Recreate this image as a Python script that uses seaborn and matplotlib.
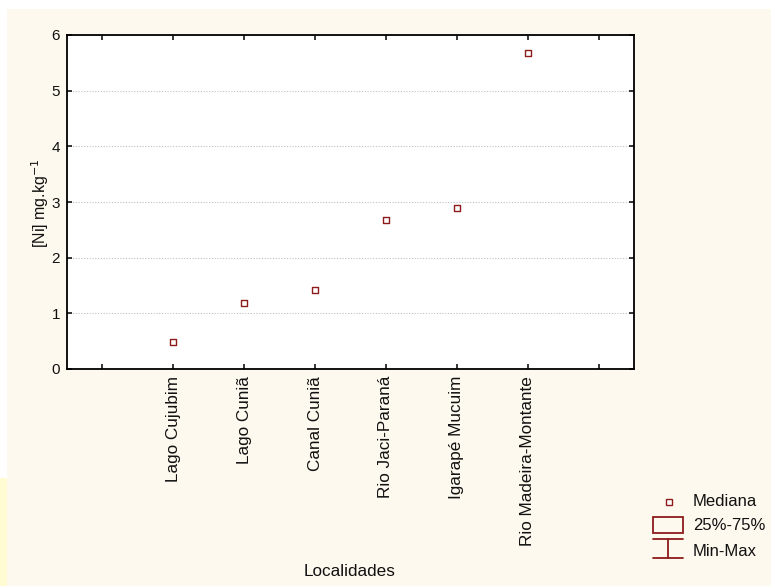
import matplotlib
matplotlib.use("Agg")
import matplotlib.pyplot as plt
import seaborn as sns
import pandas as pd
from matplotlib.patches import Rectangle
from matplotlib.lines import Line2D

localidades = ["Lago Cujubim", "Lago Cuniã", "Canal Cuniã", "Rio Jaci-Paraná",
               "Igarapé Mucuim", "Rio Madeira-Montante"]
mediana = [0.48, 1.18, 1.42, 2.68, 2.89, 5.67]
y_ticks = [0, 1, 2, 3, 4, 5, 6]
legend_labels = ["Mediana", "25%-75%", "Min-Max"]

sns.set_style("white")
plt.rcParams['font.family'] = ['Liberation Sans', 'DejaVu Sans']

W, H = 771, 586
fig = plt.figure(figsize=(W / 100, H / 100), dpi=100)
fig.patch.set_facecolor("white")

def px(x0, y0, w, h):
    return (x0 / W, 1 - (y0 + h) / H, w / W, h / H)

# background panel
bx, by, bw, bh = px(7, 9, W - 7, H - 9)
fig.add_artist(Rectangle((bx, by), bw, bh, transform=fig.transFigure,
                         facecolor="#FEF9EE", edgecolor="none", zorder=-10))
sx, sy, sw, sh = px(0, 478, 7, H - 478)
fig.add_artist(Rectangle((sx, sy), sw, sh, transform=fig.transFigure,
                         facecolor="#FFFBD2", edgecolor="none", zorder=-10))

ax = fig.add_axes(px(67, 35, 567, 334))
ax.set_facecolor("white")

red = "#8E1B1B"
df = pd.DataFrame({"Localidades": localidades, "Ni": mediana})
sns.stripplot(data=df, x="Localidades", y="Ni", order=localidades, jitter=False,
              marker="s", size=4.6, color="white", edgecolor=red, linewidth=1.0,
              ax=ax, zorder=5)

ax.set_xlim(-1.5, len(localidades) + 0.5)
ax.set_xticks(range(-1, len(localidades) + 1))
ax.set_xticklabels([""] + localidades + [""], rotation=90, fontsize=12.3)
ax.set_ylim(0, 6)
ax.set_yticks(y_ticks)
ax.set_yticklabels([str(v) for v in y_ticks], fontsize=11)
ax.yaxis.grid(True, linestyle=(0, (1, 1.5)), color="#c0c0c0", linewidth=0.8)
ax.set_axisbelow(True)

for s in ax.spines.values():
    s.set_visible(True)
    s.set_color("black")
    s.set_linewidth(1.3)
ax.tick_params(axis="both", direction="in", length=3.5, width=1.1, color="black",
               top=True, right=True, bottom=True, left=True, pad=5,
               labelcolor="#111111")

ax.set_xlabel("")
ax.set_ylabel("")
fig.text(350 / W, 1 - 571 / H, "Localidades", ha="center", va="center",
         fontsize=12.3, color="#111111")
fig.text(40 / W, 1 - 203 / H, "[Ni] mg.kg$^{-1}$", ha="center", va="center",
         rotation=90, fontsize=11.5, color="#111111")

# legend glyphs
def fx(x): return x / W
def fy(y): return 1 - y / H

fig.add_artist(Line2D([fx(669)], [fy(502)], marker="s", markersize=4.6,
                      markerfacecolor="white", markeredgecolor=red,
                      markeredgewidth=1.0, transform=fig.transFigure))
fig.add_artist(Rectangle((fx(653), fy(533)), (683 - 653) / W, (533 - 517) / H,
                         transform=fig.transFigure, facecolor="none",
                         edgecolor=red, linewidth=1.3))
for yy in (539, 558):
    fig.add_artist(Line2D([fx(653), fx(683)], [fy(yy), fy(yy)], color=red,
                          linewidth=1.3, transform=fig.transFigure))
fig.add_artist(Line2D([fx(668), fx(668)], [fy(539), fy(558)], color=red,
                      linewidth=1.3, transform=fig.transFigure))
for lab, yy in zip(legend_labels, (502, 525, 551)):
    fig.text(fx(693), fy(yy), lab, ha="left", va="center", fontsize=12,
             color="#111111")

fig.savefig("out.png", dpi=100, facecolor=fig.get_facecolor())
